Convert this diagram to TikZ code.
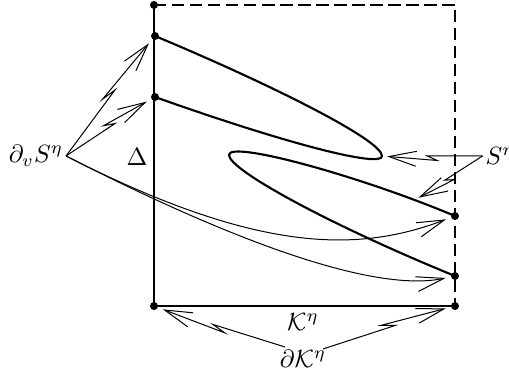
\documentclass[tikz,border=0pt]{standalone}
\usepackage{amsmath,amssymb}
\usetikzlibrary{arrows.meta,calc,positioning}

\tikzset{
  fold/.style={line width=0.85pt},
  solid edge/.style={line width=0.9pt},
  open edge/.style={line width=0.8pt, dash pattern=on 5pt off 2.2pt},
  pointer/.style={line width=0.4pt, -{Straight Barb[length=11pt,width=6pt]}, shorten >=2pt},
  zig/.style={to path={-- ($(\tikztostart)!0.55!(\tikztotarget)$) -- ($(\tikztostart)!0.45!(\tikztotarget)!1.8pt!90:(\tikztotarget)$) -- (\tikztotarget) \tikztonodes}},
  spot/.style={circle, fill, inner sep=0pt, minimum size=3.2pt},
  lbl/.style={inner sep=1pt},
}

\begin{document}
\begin{tikzpicture}[x=0.4pt, y=-0.4pt]
    \useasboundingbox (0,0) rectangle (509,377);

    % Corners and end points
    \node (c-tl) [spot] at (154,5) {};
    \node (c-bl) [spot] at (154,306) {};
    \node (c-br) [spot] at (455,306) {};
    \coordinate (c-tr) at (455,5);
    \node (l1) [spot] at (155,36) {};
    \node (l2) [spot] at (155,97) {};
    \node (r1) [spot] at (455,216) {};
    \node (r2) [spot] at (455,276) {};
    \coordinate (tip1) at (382,156);
    \coordinate (tip2) at (229,155);
    \coordinate (hit2) at (414,200);

    % Labels
    \node (dvS) [lbl] at (36,156) {$\partial_v S^\eta$};
    \node (delta) [lbl] at (137,157) {$\Delta$};
    \node (Seta) [lbl] at (500,156) {$S^\eta$};
    \node (Keta) [lbl] at (303,322) {$\mathcal{K}^\eta$};
    \node (dK) [lbl] at (303,359) {$\partial\mathcal{K}^\eta$};
    \coordinate (dK-l) at (285,347);
    \coordinate (dK-r) at (323,349);

    % Box
    \draw[solid edge] (c-tl.center) -- (c-bl.center) -- (c-br.center);
    \draw[open edge] (c-tl.center) -- (c-tr) -- (c-br.center);

    % Folded curves
    \draw[fold] (l1.center) .. controls (270,84) and (382,140) .. (tip1)
                .. controls (382,168) and (290,145) .. (l2.center);
    \draw[fold] (r1.center) .. controls (360,176) and (229,140) .. (tip2)
                .. controls (229,170) and (330,225) .. (r2.center);

    % Pointers
    \draw[pointer] (dvS.east) to[zig] (l1);
    \draw[pointer] (dvS.east) to[zig] (l2);
    \draw[pointer] (dvS.east) .. controls (260,255) and (360,252) .. (r1);
    \draw[pointer] (dvS.east) .. controls (250,250) and (380,292) .. (r2);
    \draw[pointer] (Seta.west) to[zig] (tip1);
    \draw[pointer] (Seta.west) to[zig] (hit2);
    \draw[pointer] (dK-l) to[zig] (c-bl);
    \draw[pointer] (dK-r) to[zig] (c-br);

\end{tikzpicture}
\end{document}
